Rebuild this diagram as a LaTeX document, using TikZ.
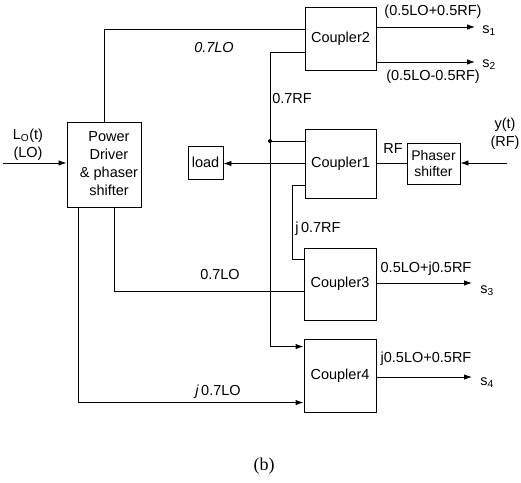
\documentclass[tikz,border=0pt]{standalone}
\usepackage{fontspec}
\setmainfont{Liberation Sans}
\newfontfamily\capfont{Liberation Serif}
\usetikzlibrary{arrows.meta,calc}
\begin{document}
\begin{tikzpicture}[x=1pt,y=-1pt,
  box/.style={draw,line width=0.9pt,inner sep=0pt,anchor=center,font=\fontsize{14.5}{17}\selectfont},
  wire/.style={line width=0.9pt},
  arr/.style={wire,-{Latex[length=8pt,width=5.5pt]}},
  lbl/.style={inner sep=0pt,font=\fontsize{14.5}{17}\selectfont},
  dotc/.style={circle,fill,inner sep=0pt,minimum size=4pt}]
\useasboundingbox (0,0) rectangle (521,482);
% boxes
\node[box,minimum width=74pt,minimum height=85pt] (P) at (104,164.5) {};
\node[font=\fontsize{14.5}{18}\selectfont,align=center,inner sep=0pt] (Ptxt) at (109,164) {Power\\Driver\\\& phaser\\shifter};
\node[box,minimum width=71pt,minimum height=63pt] (C2) at (340.5,38.5) {Coupler2};
\node[box,minimum width=71pt,minimum height=69pt] (C1) at (340.5,163.5) {Coupler1};
\node[box,minimum width=72pt,minimum height=72pt] (C3) at (340,284) {Coupler3};
\node[box,minimum width=72pt,minimum height=73pt] (C4) at (340,375.5) {Coupler4};
\node[box,minimum width=35pt,minimum height=33pt] (L) at (205.5,162.5) {load};
\node[box,minimum width=53pt,minimum height=41pt,align=center,font=\fontsize{14}{16}\selectfont] (Ph) at (433.5,163.5) {Phaser\\shifter};
% free ends
\coordinate (lin) at (3,163);
\coordinate (yin) at (507,163);
\coordinate (dot) at (270,141);
\coordinate (o1) at (475,27);
\coordinate (o2) at (475,62);
\coordinate (o3) at (472,283);
\coordinate (o4) at (472,377);
% connectors
\draw[arr] (lin) -- (lin -| P.west);
\draw[wire] ([xshift=38pt]P.north west) |- ([yshift=-23pt]C2.north west);
\draw[wire] ([xshift=48pt]P.south west) |- ([yshift=-44pt]C3.north west);
\draw[arr] ([xshift=12pt]P.south west) |- ([yshift=-64pt]C4.north west);
\draw[wire] (C1.west |- dot) -- (dot);
\draw[wire] (dot) |- ([yshift=-46pt]C2.north west);
\draw[arr] (dot) |- ([yshift=-8pt]C4.north west);
\node[dotc] (d) at (dot) {};
\draw[arr] (C1.west) -- (C1.west -| L.east);
\draw[wire] (Ph.west) -- (Ph.west -| C1.east);
\draw[arr] (yin) -- (yin -| Ph.east);
\draw[wire] ([yshift=-57pt]C1.north west) -| ([xshift=-11pt,yshift=-12pt]C3.north west) -- ([yshift=-12pt]C3.north west);
\draw[arr] (C2.east |- o1) -- (o1);
\draw[arr] (C2.east |- o2) -- (o2);
\draw[arr] (C3.east |- o3) -- (o3);
\draw[arr] (C4.east |- o4) -- (o4);
% labels
\node[lbl] (lLO1) at (28,136) {L\textsubscript{O}(t)};
\node[lbl] (lLO2) at (28,154) {(LO)};
\node[lbl,font=\fontsize{14.5}{17}\selectfont\itshape] (l07a) at (214,48) {0.7LO};
\node[lbl] (l07b) at (220,275) {0.7LO};
\node[lbl] (l07c) at (218,392) {\textit{j}\,0.7LO};
\node[lbl] (lRF07) at (292,99) {0.7RF};
\node[lbl] (ljRF) at (318,229) {j\,0.7RF};
\node[lbl] (lRF) at (393,149) {RF};
\node[lbl] (ly1) at (505,125) {y(t)};
\node[lbl] (ly2) at (505,143) {(RF)};
\node[lbl] (lo1) at (433,12) {(0.5LO+0.5RF)};
\node[lbl] (lo2) at (433,77) {(0.5LO-0.5RF)};
\node[lbl] (lo3) at (426,269) {0.5LO+j0.5RF};
\node[lbl] (lo4) at (426,359) {j0.5LO+0.5RF};
\node[lbl] (s1) at (489,31) {s\textsubscript{1}};
\node[lbl] (s2) at (489,65) {s\textsubscript{2}};
\node[lbl] (s3) at (487,291) {s\textsubscript{3}};
\node[lbl] (s4) at (487,383) {s\textsubscript{4}};
\node[inner sep=0pt,font=\capfont\fontsize{18}{20}\selectfont] (cap) at (264,466) {(b)};
\end{tikzpicture}
\end{document}
